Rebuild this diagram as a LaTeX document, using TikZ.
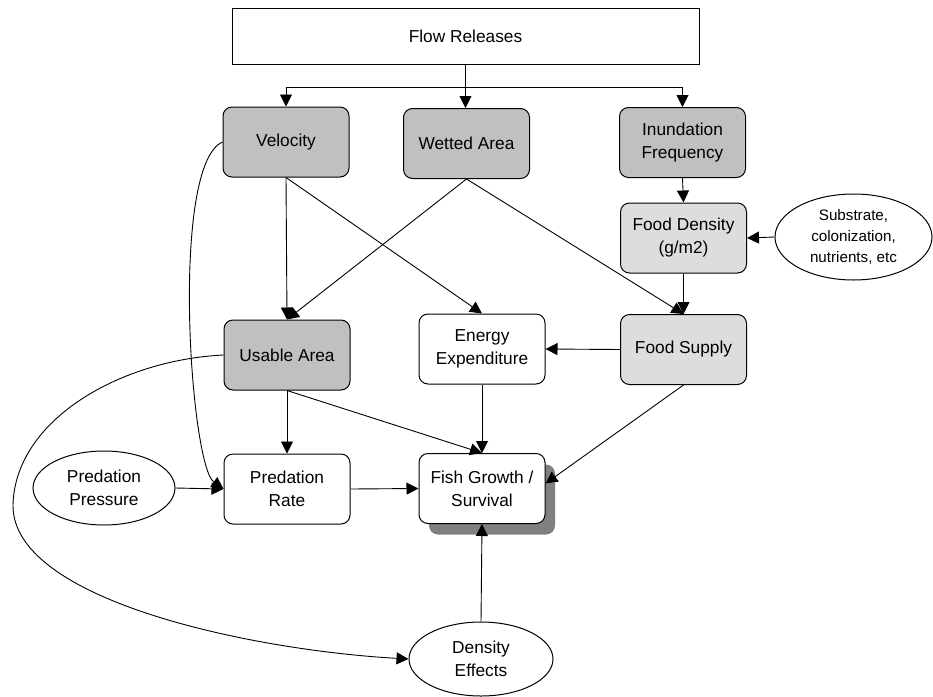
\documentclass[tikz,border=0pt]{standalone}
\usepackage{fontspec}
\setmainfont{Liberation Sans}
\usetikzlibrary{arrows.meta,shapes.geometric,shadows}
\definecolor{dkgray}{RGB}{192,192,192}
\definecolor{ltgray}{RGB}{221,221,221}
\begin{document}
\begin{tikzpicture}[x=1pt,y=-1pt,
  every node/.style={font=\fontsize{17.3}{23}\selectfont, align=center, inner sep=0pt},
  box/.style={draw, rounded corners=9pt, minimum width=126pt, minimum height=70pt, line width=1pt},
  dark/.style={box, fill=dkgray},
  light/.style={box, fill=ltgray},
  oval/.style={draw, ellipse, line width=1pt, fill=white},
  arr/.style={-{Triangle[length=12pt,width=12pt]}, line width=0.9pt}]
\useasboundingbox (0,0) rectangle (933,696);

\node[draw, line width=1pt, minimum width=467pt, minimum height=56pt] (flow) at (465.5,36) {Flow Releases};
\node[dark] (vel) at (286,142) {Velocity};
\node[dark] (wet) at (466.5,143.5) {Wetted Area};
\node[dark] (inun) at (682.5,142.5) {Inundation\\Frequency};
\node[light] (fden) at (683.5,238) {Food Density\\(g/m2)};
\node[light] (fsup) at (683.5,349.5) {Food Supply};
\node[oval, minimum width=157pt, minimum height=86pt, font=\fontsize{15.2}{21}\selectfont] (subst) at (853.5,237) {Substrate,\\colonization,\\nutrients, etc};
\node[dark] (usable) at (287,355) {Usable Area};
\node[box, fill=white] (energy) at (482,349) {Energy\\Expenditure};
\node[box, fill=white, drop shadow={shadow xshift=10pt, shadow yshift=-11pt, fill=black!50, opacity=1}] (fish) at (482,488.5) {Fish Growth /\\Survival};
\node[box, fill=white] (prate) at (287,489) {Predation\\Rate};
\node[oval, minimum width=142pt, minimum height=74pt] (ppress) at (104,488) {Predation\\Pressure};
\node[oval, minimum width=144pt, minimum height=74pt] (dens) at (481,659) {Density\\Effects};

\coordinate (bus) at (0,87);
\draw[arr] (flow.south) -- (flow.south |- bus) -| (vel.north);
\draw[arr] (flow.south) -- (flow.south |- bus) -| (inun.north);
\draw[arr] (flow.south) -- (flow.south |- wet.north);
\draw[arr] (vel.south) -- (usable.north);
\draw[arr] (vel.south) -- (energy.north);
\draw[arr] (wet.south) -- (usable.north);
\draw[arr] (wet.south) -- (fsup.north);
\draw[arr] (inun.south) -- (fden.north);
\draw[arr] (subst.west) -- (fden.east);
\draw[arr] (fden.south) -- (fsup.north);
\draw[arr] (fsup.west) -- (energy.east);
\draw[arr] (energy.south) -- (fish.north);
\draw[arr] (usable.south) -- (prate.north);
\draw[arr] (usable.south) -- (fish.north);
\draw[arr] (fsup.south) -- ([yshift=5pt]fish.east);
\draw[arr] (ppress.east) -- (prate.west);
\draw[arr] (prate.east) -- (fish.west);
\draw[arr] (dens.north) -- (fish.south);
\draw[arr] (vel.west) .. controls (170,165) and (190,465) .. (prate.west);
\draw[arr] (usable.west) .. controls (120,360) and (15,420) .. (13,505) .. controls (12,600) and (250,650) .. (dens.west);
\end{tikzpicture}
\end{document}
